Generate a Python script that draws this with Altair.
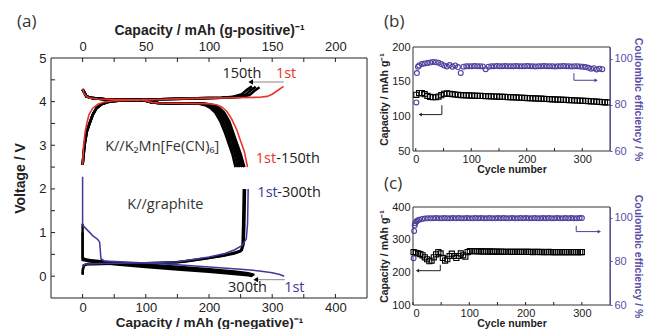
import altair as alt
import pandas as pd

# ---------------- colours / fonts ----------------
PURPLE = "#4b3f9c"
PURPLE_AX = "#5a4ea6"
RED = "#e8352b"
BLUE = "#3f3a98"
AXF = "Liberation Sans"
TXF = "Open Sans"

# ---------------- panel (a) data ----------------
# cathode, K//K2Mn[Fe(CN)6]  (top axis, mAh per g positive)
red_chg_x = [0, 0.8, 2, 3.3, 5, 8, 12, 17, 25, 50, 60, 80, 100, 120, 140, 146, 150, 154, 159]
red_chg_v = [2.55, 3.0, 3.3, 3.5, 3.7, 3.85, 3.94, 3.99, 4.02, 4.04, 4.05, 4.07, 4.08, 4.09, 4.1, 4.12, 4.17, 4.25, 4.35]
red_dis_x = [0, 1, 3, 6, 12, 25, 45, 50, 55, 60, 80, 100, 106, 110, 114, 118, 122, 125, 128, 130.5]
red_dis_v = [4.3, 4.2, 4.12, 4.08, 4.06, 4.05, 4.04, 4.02, 3.98, 3.97, 3.96, 3.95, 3.93, 3.88, 3.78, 3.6, 3.35, 3.1, 2.85, 2.5]

blk_chg1_x = [0, 1.5, 3.2, 5.5, 8, 11, 15, 20, 28, 55, 80, 110, 125, 132, 136, 140]
blk_chg1_v = [2.55, 3.0, 3.3, 3.5, 3.7, 3.85, 3.94, 3.99, 4.02, 4.05, 4.07, 4.09, 4.11, 4.15, 4.25, 4.33]
blk_chg2_x = [0, 1.5, 3.2, 5.5, 8, 11, 15, 20, 28, 55, 80, 110, 122, 129, 133, 137]
blk_chg2_v = [2.55, 3.0, 3.3, 3.5, 3.7, 3.85, 3.94, 3.99, 4.02, 4.05, 4.07, 4.09, 4.11, 4.16, 4.26, 4.34]
blk_chg3_x = [0, 1.5, 3.2, 5.5, 8, 11, 15, 20, 28, 55, 80, 110, 119, 126, 130, 134]
blk_chg3_v = [2.55, 3.0, 3.3, 3.5, 3.7, 3.85, 3.94, 3.99, 4.02, 4.05, 4.07, 4.09, 4.11, 4.17, 4.27, 4.35]

dis_v = [4.28, 4.12, 4.08, 4.05, 4.04, 4.02, 3.98, 3.97, 3.96, 3.95, 3.92, 3.86, 3.75, 3.55, 3.3, 3.05, 2.8, 2.5]
blk_dis1_x = [0, 3, 8, 20, 45, 50, 55, 60, 80, 98, 104, 108, 112, 116, 119, 122, 125, 128]
blk_dis2_x = [0, 3, 8, 20, 45, 50, 55, 60, 80, 96.5, 102.5, 106.5, 110.5, 114.5, 117.5, 120.5, 123.5, 126.3]
blk_dis3_x = [0, 3, 8, 20, 45, 50, 55, 60, 80, 95, 101, 105, 109, 113, 116, 119, 122, 124.5]
blk_dis4_x = [0, 3, 8, 20, 45, 50, 55, 60, 80, 93.5, 99, 103, 107, 111, 114.3, 117.3, 120.3, 122.8]
blk_dis5_x = [0, 3, 8, 20, 45, 50, 55, 60, 80, 92, 97, 101, 105, 109, 112.5, 115.5, 118.5, 121]

# anode, K//graphite  (bottom axis, mAh per g negative)
blue_dis_x = [0, 0, 8, 16, 24, 27, 29, 34, 60, 100, 150, 200, 250, 280, 300, 312, 319]
blue_dis_v = [2.28, 1.17, 1.05, 0.93, 0.84, 0.78, 0.4, 0.35, 0.33, 0.3, 0.26, 0.21, 0.16, 0.12, 0.08, 0.04, 0.0]
blue_chg_x = [0, 1, 5, 30, 100, 150, 175, 200, 225, 240, 252, 259, 261, 262]
blue_chg_v = [0.2, 0.25, 0.28, 0.29, 0.31, 0.33, 0.38, 0.44, 0.52, 0.6, 0.7, 0.85, 1.2, 2.0]

gd1_x = [0, 0, 5, 25, 50, 100, 150, 200, 240, 262, 272]
gd1_v = [1.2, 0.42, 0.38, 0.35, 0.31, 0.27, 0.22, 0.16, 0.11, 0.07, 0.03]
gd2_x = [0, 0, 15, 50, 100, 150, 200, 240, 262, 268]
gd2_v = [1.0, 0.37, 0.33, 0.27, 0.21, 0.15, 0.1, 0.05, 0.02, 0.0]
gd3_x = [0, 20, 50, 100, 150, 200, 240, 262, 270]
gd3_v = [0.4, 0.34, 0.29, 0.24, 0.18, 0.13, 0.08, 0.04, 0.015]
gc1_x = [0, 0.5, 2, 6, 30, 100, 150, 175, 200, 225, 243, 252, 255, 256, 257]
gc1_v = [0.03, 0.15, 0.24, 0.27, 0.28, 0.3, 0.32, 0.37, 0.42, 0.48, 0.55, 0.6, 0.75, 1.2, 2.0]
gc2_x = [0, 0.5, 2, 8, 60, 120, 160, 190, 220, 240, 250, 253, 254, 255]
gc2_v = [0.05, 0.17, 0.25, 0.28, 0.29, 0.3, 0.33, 0.39, 0.46, 0.52, 0.57, 0.7, 1.2, 2.0]

# arrows in (a)
cat_arrow_x = [159, 133]
cat_arrow_v = [4.45, 4.45]
an_arrow_x = [320, 274]
an_arrow_v = [-0.08, -0.08]

# labels in (a)
cat_txt = ["150th", "1st", "K//K\u2082Mn[Fe(CN)\u2086]"]
cat_txt_x = [126, 161, 63]
cat_txt_v = [4.64, 4.64, 2.95]
cat_txt_col = ["#222222", RED, "#333333"]
cat_lab_txt = ["1st", "-150th"]
cat_lab_x = [137, 153.2]
cat_lab_v = [2.68, 2.68]
cat_lab_col = [RED, "#222222"]
an_txt = ["K//graphite", "300th", "1st"]
an_txt_x = [131, 261, 335]
an_txt_v = [1.64, -0.26, -0.26]
an_txt_col = ["#333333", "#222222", BLUE]
an_lab_txt = ["1st", "-300th"]
an_lab_x = [276.5, 308]
an_lab_v = [1.91, 1.91]
an_lab_col = [BLUE, "#222222"]

top_ticks = [0, 25, 50, 75, 100, 125, 150, 175, 200]
bot_ticks = [0, 50, 100, 150, 200, 250, 300, 350, 400]
left_ticks = [0, 0.5, 1, 1.5, 2, 2.5, 3, 3.5, 4, 4.5]

# ---------------- panel (b) data ----------------
cap_b = [131, 133.5, 133.5, 132, 129.5, 128, 127.5, 127.5, 128.5, 130.5,
         132.5, 133, 132.5, 132, 131.5, 131, 130.5, 130.5, 130.3, 130.1,
         130, 129.8, 129.6, 129.5, 129.3, 129.1, 129, 128.8, 128.6, 128.5,
         128.3, 128.1, 128, 127.8, 127.6, 127.4, 127.2, 127, 126.8, 126.6,
         126.4, 126.2, 126, 125.8, 125.6, 125.4, 125.2, 125, 124.8, 124.6,
         124.4, 124.2, 124, 123.8, 123.6, 123.4, 123.2, 123, 122.8, 122.6,
         122.4, 122.2, 122, 121.7, 121.4, 121.1, 120.8, 120.5, 120.2, 120]
cap_b_cyc = list(range(1, 1 + 5 * len(cap_b), 5))
ce_b = [81, 93.7, 96.5,
        97.0, 97.6, 97.9, 98.1, 98.3, 98.5, 98.4, 98.2, 97.6, 97.0,
        96.6, 97.2, 96.5, 97.0, 96.3, 93.8, 96.5, 96.7, 96.7, 96.7,
        96.8, 96.7, 96.7, 96.6, 95.4, 96.5, 96.7, 96.7, 96.8, 96.7,
        96.7, 96.8, 96.7, 96.7, 96.7, 96.8, 96.7, 96.7, 96.7, 96.8,
        96.7, 96.7, 96.6, 96.7, 96.7, 96.8, 96.7, 96.7, 96.7, 96.6,
        96.7, 96.7, 96.8, 96.7, 96.7, 96.6, 96.7, 96.7, 96.6, 96.5,
        96.3, 96.0, 95.6, 95.8, 95.3, 95.6, 95.4]
ce_b_cyc = [1, 2, 4] + list(range(6, 6 + 5 * (len(ce_b) - 3), 5))
arr_b_blk_c = [47, 47, 8]
arr_b_blk_y = [116, 102.5, 102.5]
arr_b_pur_c = [285, 285, 325]
arr_b_pur_y = [93.7, 90.6, 90.6]

# ---------------- panel (c) data ----------------
cap_c = [262, 260, 258, 256, 252, 246, 240, 234, 236, 246, 255, 262, 258,
         244, 236, 240, 250, 257, 250, 244, 250, 258, 252, 248, 262, 265,
         265, 264.5, 264.5, 264, 264, 264, 264, 263.5, 264, 263.5, 263.5,
         263.5, 263, 263.5, 263, 263, 263, 263, 262.5, 263, 262.5, 263,
         262.5, 262.5, 262.5, 262.5, 262.5, 262, 262.5, 262.5, 262, 262.5,
         262, 262, 262.5, 262, 262, 262, 262, 262, 262, 262, 262, 262,
         262, 262, 262, 262, 262, 262]
cap_c_cyc = list(range(1, 1 + 4 * (len(cap_c) - 1), 4)) + [300]
ce_c = [81.5, 94, 96.5, 97.5, 98.3, 98.8, 99.2, 99.5, 99.7,
        99.8, 99.8, 99.8, 99.9, 99.8, 99.8, 99.9, 99.8, 99.8, 99.9,
        99.8, 99.9, 99.8, 99.8, 99.9, 99.8, 99.8, 99.9, 99.8, 99.9,
        99.8, 99.8, 99.9, 99.8, 99.8, 99.9, 99.8, 99.9, 99.8, 99.8,
        99.9, 99.8, 99.8, 99.9, 99.8, 99.9, 99.8, 99.8, 99.9, 99.8,
        99.8, 99.9, 99.8, 99.9, 99.8, 99.8, 99.9, 99.8, 99.8, 99.9,
        99.8, 99.9, 99.8, 99.8, 99.9, 99.9]
ce_c_cyc = [1, 2, 3, 4, 6, 8, 11, 16, 21] + list(range(26, 26 + 5 * (len(ce_c) - 10), 5)) + [300]
arr_c_blk_c = [48.5, 48.5, 8]
arr_c_blk_y = [223, 205, 205]
arr_c_pur_c = [290, 290, 331]
arr_c_pur_y = [96.4, 93.7, 93.7]
cyc_ticks = [0, 50, 100, 150, 200, 250, 300]


def curves(items):
    rows = []
    for cid, xs, vs in items:
        for i, (a, b) in enumerate(zip(xs, vs)):
            rows.append({"cid": cid, "x": a, "v": b, "i": i})
    return pd.DataFrame(rows)


ONE = pd.DataFrame({"k": [0]})

# ---------------- panel (a) ----------------
WA, HA, TOPA = 316, 251, 11          # plot frame starts TOPA px below the chart origin
VTOP = 5 + TOPA * 5.5 / (HA - TOPA)  # voltage at the chart origin
ax_common = dict(grid=False, ticks=False, domain=False, labelFont=AXF, labelFontSize=13,
                 labelColor="#222", titleFont=AXF, titleFontWeight="bold", titleColor="#222")
XP = alt.X("x:Q", scale=alt.Scale(domain=[-25, 225], nice=False, zero=False),
           axis=alt.Axis(orient="top", title="Capacity / mAh (g-positive)\u207b\u00b9", offset=-TOPA,
                         values=[0, 50, 100, 150, 200], labelPadding=5, titlePadding=3,
                         titleFontSize=14, **ax_common))
XN = alt.X("x:Q", scale=alt.Scale(domain=[-50, 450], nice=False, zero=False),
           axis=alt.Axis(orient="bottom", title="Capacity / mAh (g-negative)\u207b\u00b9",
                         values=[0, 100, 200, 300, 400], labelPadding=3, titlePadding=1.5,
                         titleFontSize=13.5, **ax_common))
YV = alt.Y("v:Q", scale=alt.Scale(domain=[-0.5, VTOP], nice=False, zero=False),
           axis=alt.Axis(title="Voltage / V", values=[0, 1, 2, 3, 4, 5], labelPadding=5,
                         titlePadding=11, titleY=(TOPA + HA) / 2, titleFontSize=14, **ax_common))

cat_black = curves([("c1", blk_chg1_x, blk_chg1_v), ("c2", blk_chg2_x, blk_chg2_v),
                    ("c3", blk_chg3_x, blk_chg3_v), ("d1", blk_dis1_x, dis_v),
                    ("d2", blk_dis2_x, dis_v), ("d3", blk_dis3_x, dis_v),
                    ("d4", blk_dis4_x, dis_v), ("d5", blk_dis5_x, dis_v)])
cat_red = curves([("rc", red_chg_x, red_chg_v), ("rd", red_dis_x, red_dis_v)])
an_black = curves([("d1", gd1_x, gd1_v), ("d2", gd2_x, gd2_v), ("d3", gd3_x, gd3_v),
                   ("c1", gc1_x, gc1_v), ("c2", gc2_x, gc2_v)])
an_blue = curves([("bd", blue_dis_x, blue_dis_v), ("bc", blue_chg_x, blue_chg_v)])

enc_p = dict(x=XP, y=YV, detail="cid:N", order="i:Q")
enc_n = dict(x=XN, y=YV, detail="cid:N", order="i:Q")

cat_layer = alt.layer(
    alt.Chart(ONE).mark_rect(fillOpacity=0, stroke="#222", strokeWidth=1)
    .encode(x=alt.value(0), x2=alt.value(WA), y=alt.value(TOPA), y2=alt.value(HA)),
    alt.Chart(pd.DataFrame({"x": top_ticks})).mark_rule(color="#222", strokeWidth=1)
    .encode(x=XP, y=alt.value(TOPA), y2=alt.value(TOPA + 4)),
    alt.Chart(pd.DataFrame({"v": left_ticks})).mark_rule(color="#222", strokeWidth=1)
    .encode(y=YV, x=alt.value(0), x2=alt.value(4)),
    alt.Chart(cat_black).mark_line(color="black", strokeWidth=2.6).encode(**enc_p),
    alt.Chart(cat_red).mark_line(color=RED, strokeWidth=1.6).encode(**enc_p),
    alt.Chart(pd.DataFrame({"x": cat_arrow_x[:1], "x2": cat_arrow_x[1:], "v": cat_arrow_v[:1]}))
    .mark_rule(color="#888", strokeWidth=1).encode(x=XP, x2="x2:Q", y=YV),
    alt.Chart(pd.DataFrame({"x": cat_arrow_x[1:], "v": cat_arrow_v[1:]}))
    .mark_point(shape="triangle-left", filled=True, size=28, color="black", opacity=1)
    .encode(x=XP, y=YV),
    alt.Chart(pd.DataFrame({"x": cat_txt_x, "v": cat_txt_v, "t": cat_txt, "c": cat_txt_col}))
    .mark_text(font=TXF, fontSize=14.5, baseline="middle", align="center")
    .encode(x=XP, y=YV, text="t:N", color=alt.Color("c:N", scale=None)),
    alt.Chart(pd.DataFrame({"x": cat_lab_x, "v": cat_lab_v, "t": cat_lab_txt, "c": cat_lab_col}))
    .mark_text(font=TXF, fontSize=14.5, baseline="middle", align="left")
    .encode(x=XP, y=YV, text="t:N", color=alt.Color("c:N", scale=None)),
    alt.Chart(pd.DataFrame({"t": ["(a)"]}))
    .mark_text(font=TXF, fontSize=17, align="left", baseline="top", color="#333")
    .encode(x=alt.value(-34), y=alt.value(-33), text="t:N"),
)

an_layer = alt.layer(
    alt.Chart(pd.DataFrame({"x": bot_ticks})).mark_rule(color="#222", strokeWidth=1)
    .encode(x=XN, y=alt.value(HA), y2=alt.value(HA - 4)),
    alt.Chart(an_black).mark_line(color="black", strokeWidth=2.4).encode(**enc_n),
    alt.Chart(an_blue).mark_line(color=BLUE, strokeWidth=1.5).encode(**enc_n),
    alt.Chart(pd.DataFrame({"x": an_arrow_x[:1], "x2": an_arrow_x[1:], "v": an_arrow_v[:1]}))
    .mark_rule(color="#888", strokeWidth=1).encode(x=XN, x2="x2:Q", y=YV),
    alt.Chart(pd.DataFrame({"x": an_arrow_x[1:], "v": an_arrow_v[1:]}))
    .mark_point(shape="triangle-left", filled=True, size=28, color="black", opacity=1)
    .encode(x=XN, y=YV),
    alt.Chart(pd.DataFrame({"x": an_txt_x, "v": an_txt_v, "t": an_txt, "c": an_txt_col}))
    .mark_text(font=TXF, fontSize=14.5, baseline="middle", align="center")
    .encode(x=XN, y=YV, text="t:N", color=alt.Color("c:N", scale=None)),
    alt.Chart(pd.DataFrame({"x": an_lab_x, "v": an_lab_v, "t": an_lab_txt, "c": an_lab_col}))
    .mark_text(font=TXF, fontSize=14.5, baseline="middle", align="left")
    .encode(x=XN, y=YV, text="t:N", color=alt.Color("c:N", scale=None)),
)

panel_a = alt.layer(cat_layer, an_layer).resolve_scale(x="independent").properties(width=WA, height=HA)


# ---------------- panels (b), (c) ----------------
def cycle_panel(letter, ly, w, h, xdom, capdom, capvals, cap_c_, cap_v, ce_c_, ce_v,
                ab_c, ab_y, ap_c, ap_y):
    small = dict(grid=False, labelFont=AXF, labelFontSize=11, titleFont=AXF,
                 titleFontSize=10.5, titleFontWeight="bold")
    X = alt.X("c:Q", scale=alt.Scale(domain=xdom, nice=False, zero=False),
              axis=alt.Axis(title="Cycle number", values=[0, 100, 200, 300], ticks=False,
                            domain=False, labelPadding=2, titlePadding=0.5, labelColor="#222",
                            titleColor="#222", **small))
    YC = alt.Y("y:Q", scale=alt.Scale(domain=capdom, nice=False, zero=False),
               axis=alt.Axis(title="Capacity / mAh g\u207b\u00b9", values=capvals, ticks=False,
                             domain=False, labelPadding=3, titlePadding=2, labelColor="#222",
                             titleColor="#222", **small))
    YE = alt.Y("y:Q", scale=alt.Scale(domain=[60, 105], nice=False, zero=False),
               axis=alt.Axis(orient="right", title="Coulombic efficiency / %", values=[60, 80, 100],
                             ticks=True, tickSize=2, tickColor=PURPLE_AX, domain=True,
                             domainColor=PURPLE_AX, zindex=1, labelPadding=2, titlePadding=0.5,
                             labelColor=PURPLE_AX, titleColor=PURPLE_AX, **small))
    cap_layer = alt.layer(
        alt.Chart(ONE).mark_rect(fillOpacity=0, stroke="#333", strokeWidth=1)
        .encode(x=alt.value(0), x2=alt.value(w), y=alt.value(0), y2=alt.value(h)),
        alt.Chart(pd.DataFrame({"c": cyc_ticks})).mark_rule(color="#222")
        .encode(x=X, y=alt.value(h), y2=alt.value(h - 3)),
        alt.Chart(pd.DataFrame({"c": cap_c_, "y": cap_v}))
        .mark_point(shape="square", filled=False, size=26, color="black", strokeWidth=1.1, opacity=1)
        .encode(x=X, y=YC),
        alt.Chart(pd.DataFrame({"c": ab_c, "y": ab_y, "i": [0, 1, 2]}))
        .mark_line(color="#222", strokeWidth=1).encode(x=X, y=YC, order="i:Q"),
        alt.Chart(pd.DataFrame({"c": ab_c[-1:], "y": ab_y[-1:]}))
        .mark_point(shape="triangle-left", filled=True, size=14, color="#222", opacity=1)
        .encode(x=X, y=YC),
        alt.Chart(pd.DataFrame({"t": [letter]}))
        .mark_text(font=TXF, fontSize=17, align="left", baseline="top", color="#333")
        .encode(x=alt.value(-29), y=alt.value(ly), text="t:N"),
    )
    ce_layer = alt.layer(
        alt.Chart(pd.DataFrame({"c": ce_c_, "y": ce_v}))
        .mark_point(shape="circle", filled=False, size=24, color=PURPLE, strokeWidth=1.1, opacity=1)
        .encode(x=X, y=YE),
        alt.Chart(pd.DataFrame({"c": ap_c, "y": ap_y, "i": [0, 1, 2]}))
        .mark_line(color=PURPLE, strokeWidth=1).encode(x=X, y=YE, order="i:Q"),
        alt.Chart(pd.DataFrame({"c": ap_c[-1:], "y": ap_y[-1:]}))
        .mark_point(shape="triangle-right", filled=True, size=14, color=PURPLE, opacity=1)
        .encode(x=X, y=YE),
    )
    return alt.layer(cap_layer, ce_layer).resolve_scale(y="independent").properties(width=w, height=h)


panel_b = cycle_panel("(b)", -33, 197, 104, [-5, 350], [50, 200], [50, 100, 150, 200],
                      cap_b_cyc, cap_b, ce_b_cyc, ce_b,
                      arr_b_blk_c, arr_b_blk_y, arr_b_pur_c, arr_b_pur_y)
panel_c = cycle_panel("(c)", -31, 197, 98, [0, 350], [100, 400], [100, 200, 300, 400],
                      cap_c_cyc, cap_c, ce_c_cyc, ce_c,
                      arr_c_blk_c, arr_c_blk_y, arr_c_pur_c, arr_c_pur_y)

right = alt.vconcat(panel_b, panel_c, spacing=0)
chart = (alt.hconcat(panel_a, right, spacing=11)
         .properties(padding={"left": 5, "top": 5, "right": 3, "bottom": 0})
         .configure_view(strokeWidth=0))

chart.save("out.html", embed_options={"renderer": "svg", "actions": False})
